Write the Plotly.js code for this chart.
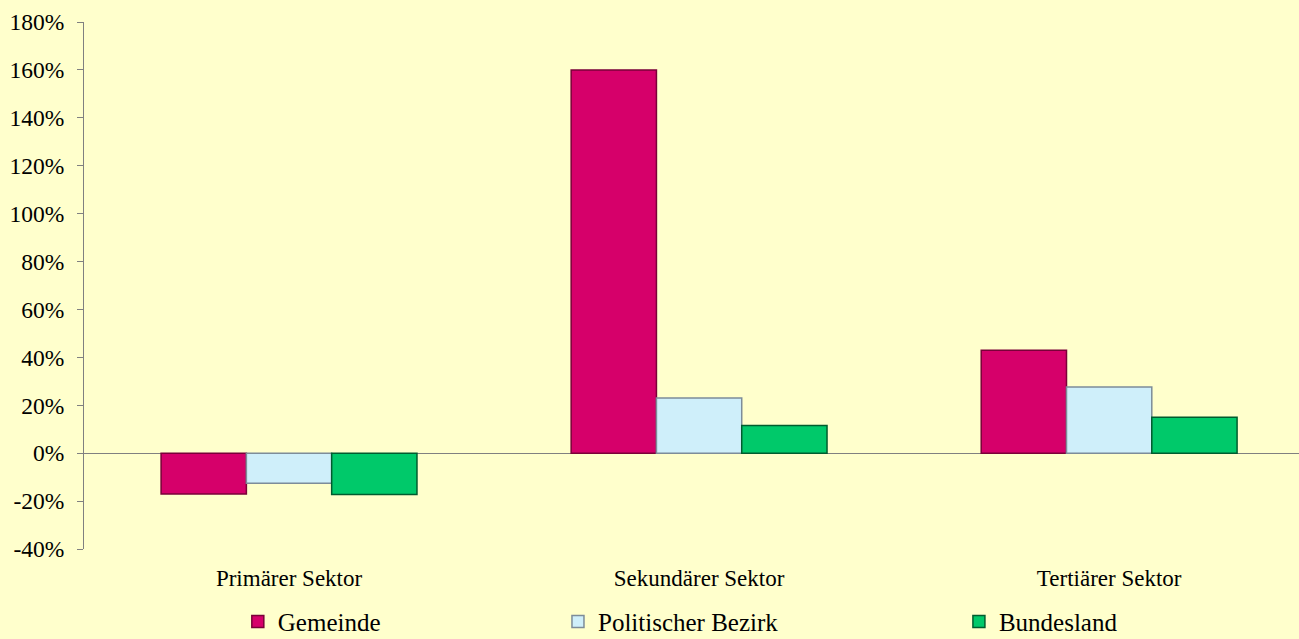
<!DOCTYPE html>
<html>
<head>
<meta charset="utf-8">
<script src="https://cdn.plot.ly/plotly-3.0.1.min.js"></script>
<style>html,body{margin:0;padding:0;background:#FFFFCC;}#chart{width:1299px;height:639px;}</style>
</head>
<body>
<div id="chart"></div>
<script>
const categories = ["Primärer Sektor", "Sekundärer Sektor", "Tertiärer Sektor"];
const seriesNames = ["Gemeinde", "Politischer Bezirk", "Bundesland"];
const gemeinde = [-0.17, 1.60, 0.43];
const politischerBezirk = [-0.125, 0.23, 0.276];
const bundesland = [-0.172, 0.116, 0.15];
const yTickVals = [-0.4, -0.2, 0, 0.2, 0.4, 0.6, 0.8, 1.0, 1.2, 1.4, 1.6, 1.8];
const yTickText = ["-40%", "-20%", "0%", "20%", "40%", "60%", "80%", "100%", "120%", "140%", "160%", "180%"];

const fontFamily = "Liberation Serif";
const fills = ["#D6006A", "#CFEFFA", "#00C96A"];
const edges = ["#7A0038", "#7D8C99", "#005C2E"];
const values = [gemeinde, politischerBezirk, bundesland];
const legendIds = ["legend", "legend2", "legend3"];

const traces = seriesNames.map((name, i) => ({
  type: "bar",
  name: name,
  x: categories,
  y: values[i],
  marker: {color: fills[i], line: {color: edges[i], width: 1.5}},
  legend: legendIds[i],
  showlegend: true,
  hoverinfo: "x+y+name"
}));

const legendBase = {
  orientation: "h",
  yanchor: "middle",
  y: -0.138,
  xanchor: "left",
  bgcolor: "rgba(0,0,0,0)",
  font: {family: fontFamily, size: 25, color: "#000"}
};

const layout = {
  width: 1299,
  height: 639,
  showlegend: true,
  paper_bgcolor: "#FFFFCC",
  plot_bgcolor: "#FFFFCC",
  margin: {l: 84, r: 0, t: 22, b: 90, autoexpand: false},
  barmode: "group",
  bargap: 0.376,
  bargroupgap: 0,
  font: {family: fontFamily, color: "#000"},
  xaxis: {
    type: "category",
    range: [-0.5, 2.463],
    showline: false,
    showgrid: false,
    zeroline: false,
    ticks: "outside",
    ticklen: 8,
    tickcolor: "rgba(0,0,0,0)",
    automargin: false,
    tickfont: {family: fontFamily, size: 23, color: "#000"}
  },
  xaxis2: {
    overlaying: "x",
    anchor: "free",
    position: 0.4 / 2.2,
    type: "linear",
    range: [-0.5, 2.463],
    tickvals: [0.5, 1.5],
    ticks: "outside",
    ticklen: 7,
    tickwidth: 1,
    tickcolor: "#808080",
    showticklabels: false,
    showline: false,
    showgrid: false,
    zeroline: false
  },
  yaxis: {
    range: [-0.4, 1.8],
    tickvals: yTickVals,
    ticktext: yTickText,
    showline: true,
    linecolor: "#808080",
    linewidth: 1,
    ticks: "outside",
    ticklen: 6,
    tickcolor: "#808080",
    showgrid: false,
    zeroline: true,
    zerolinecolor: "#808080",
    zerolinewidth: 1,
    automargin: false,
    ticklabelstandoff: 8,
    tickfont: {family: fontFamily, size: 23.5, color: "#000"}
  },
  legend: Object.assign({}, legendBase, {x: 0.1266}),
  legend2: Object.assign({}, legendBase, {x: 0.3901}),
  legend3: Object.assign({}, legendBase, {x: 0.7201})
};

Plotly.newPlot("chart", traces, layout, {displayModeBar: false, responsive: false});
</script>
</body>
</html>
